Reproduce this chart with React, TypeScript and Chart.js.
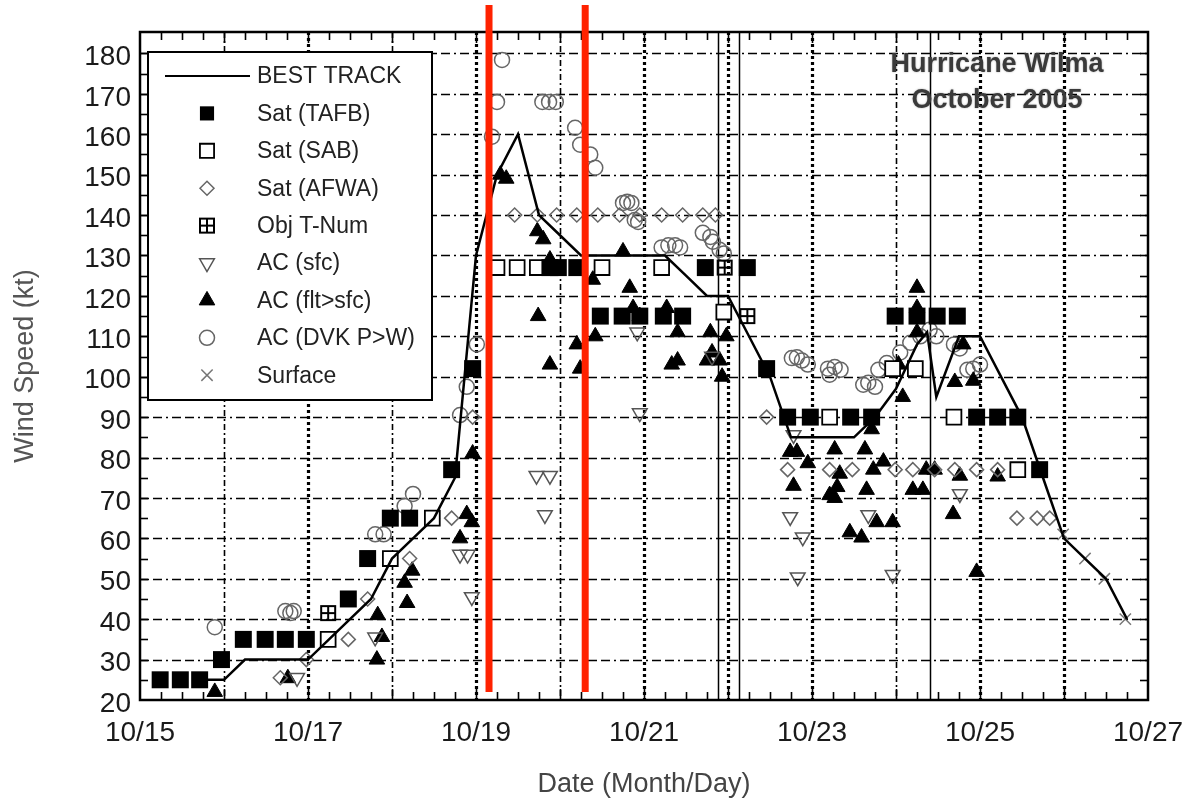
import React, { useEffect, useRef } from 'react';
import { Chart, registerables } from 'chart.js';
import { drawPoint } from 'chart.js/helpers';

Chart.register(...registerables);

const FONT = "'Liberation Sans', Arial, Helvetica, sans-serif";

// x values are days after 10/15 00Z
const xTickLabels = ['10/15', '10/17', '10/19', '10/21', '10/23', '10/25', '10/27'];

const bestTrackDays = [0.75, 1.0, 1.25, 1.5, 1.75, 2.0, 2.25, 2.5, 2.75, 3.0, 3.25, 3.5, 3.75, 4.0, 4.25, 4.5, 4.75, 5.0, 5.25, 5.5, 5.75, 6.0, 6.25, 6.5, 6.75, 7.0, 7.25, 7.5, 7.75, 8.0, 8.25, 8.5, 8.75, 9.0, 9.25, 9.37, 9.48, 9.75, 10.0, 10.5, 10.75, 11.0, 11.25, 11.5, 11.75];
const bestTrackKt = [25, 25, 30, 30, 30, 30, 35, 40, 45, 55, 60, 65, 75, 130, 150, 160, 140, 135, 130, 130, 130, 130, 130, 125, 120, 120, 110, 100, 85, 85, 85, 85, 90, 97, 108, 111, 95, 110, 110, 90, 75, 60, 55, 50, 40];

const tafbDays = [0.24, 0.48, 0.71, 0.97, 1.23, 1.49, 1.73, 1.98, 2.48, 2.71, 2.98, 3.21, 3.71, 3.96, 4.88, 4.98, 5.20, 5.48, 5.74, 5.95, 6.23, 6.46, 6.73, 7.23, 7.46, 7.71, 7.98, 8.46, 8.71, 8.99, 9.25, 9.49, 9.73, 9.96, 10.21, 10.45, 10.71];
const tafbKt = [25, 25, 25, 30, 35, 35, 35, 35, 45, 55, 65, 65, 77, 102, 127, 127, 127, 115, 115, 115, 115, 115, 127, 127, 102, 90, 90, 90, 90, 115, 115, 115, 115, 90, 90, 90, 77];

const sabDays = [2.24, 2.98, 3.48, 4.25, 4.49, 4.73, 5.50, 6.21, 6.95, 8.21, 8.96, 9.23, 9.69, 10.45];
const sabKt = [35, 55, 65, 127, 127, 127, 127, 127, 116, 90, 102, 102, 90, 77];

const afwaDays = [1.67, 1.98, 2.24, 2.48, 2.71, 2.98, 3.21, 3.48, 3.71, 3.96, 4.46, 4.73, 4.96, 5.20, 5.45, 5.71, 5.95, 6.21, 6.46, 6.70, 6.85, 7.46, 7.71, 8.21, 8.48, 8.99, 9.20, 9.46, 9.70, 9.96, 10.21, 10.44, 10.68, 10.83];
const afwaKt = [25.5, 30, 35, 35, 45, 55, 55, 65, 65, 90, 140, 140, 140, 140, 140, 140, 140, 140, 140, 140, 140, 90, 77, 77, 77, 77, 77, 77, 77, 77, 77, 65, 65, 65];

const objTDays = [2.24, 6.96, 7.23];
const objTKt = [41.5, 127, 115];

const acSfcDays = [1.87, 2.80, 3.81, 3.90, 3.95, 4.72, 4.82, 4.88, 5.92, 5.95, 6.81, 7.74, 7.78, 7.83, 7.89, 8.67, 8.96, 9.76];
const acSfcKt = [25.5, 35.5, 56, 56, 45.5, 75.5, 65.8, 75.5, 111, 91, 105, 65.3, 85.6, 50.4, 60.3, 65.8, 51, 71];

const acFltDays = [0.89, 1.76, 2.82, 2.83, 2.88, 3.15, 3.18, 3.24, 3.81, 3.89, 3.95, 3.96, 4.29, 4.36, 4.73, 4.74, 4.80, 4.88, 4.88, 5.20, 5.24, 5.39, 5.42, 5.75, 5.83, 5.87, 5.95, 6.27, 6.33, 6.40, 6.40, 6.75, 6.79, 6.81, 6.90, 6.93, 6.98, 7.74, 7.78, 7.82, 7.95, 8.21, 8.27, 8.27, 8.30, 8.33, 8.45, 8.59, 8.63, 8.65, 8.71, 8.73, 8.77, 8.85, 8.96, 9.03, 9.08, 9.20, 9.25, 9.25, 9.25, 9.32, 9.36, 9.46, 9.68, 9.70, 9.76, 9.80, 9.92, 9.96, 10.21];
const acFltKt = [22, 25.4, 30, 41, 35.6, 49, 44, 52, 60, 66, 64, 81, 150, 149, 136, 115, 134, 129, 103, 108, 102, 124, 110, 131, 122, 117, 115, 117, 103, 111, 104, 104, 111, 106, 104, 100, 110, 81.4, 73, 81.4, 78.6, 70.7, 82, 70, 72.7, 76, 61.5, 60.2, 82, 72, 87, 77, 64, 79, 64, 103, 95, 72, 122, 117, 111, 72, 77, 77, 66, 98.7, 75.5, 108, 99, 51.7, 75.3];

const dvkDays = [0.89, 1.73, 1.79, 1.83, 2.80, 2.90, 3.15, 3.25, 3.81, 3.89, 4.01, 4.19, 4.25, 4.31, 4.79, 4.87, 4.95, 5.18, 5.24, 5.36, 5.42, 5.75, 5.80, 5.85, 5.89, 5.93, 6.21, 6.29, 6.37, 6.43, 6.70, 6.79, 6.82, 6.90, 6.95, 7.76, 7.82, 7.88, 7.95, 8.19, 8.27, 8.34, 8.21, 8.61, 8.67, 8.75, 8.79, 8.89, 9.05, 9.17, 9.29, 9.40, 9.48, 9.69, 9.76, 9.85, 9.92, 10.0];
const dvkKt = [38, 42, 41.5, 42, 61, 61, 68, 71, 90.5, 97.5, 108, 159.4, 168, 178.4, 168, 168, 168, 161.6, 157.4, 155, 151.7, 143, 143.3, 143, 138.8, 138.3, 132, 132.5, 132.5, 132, 135.6, 134.6, 133.4, 131.4, 130.5, 104.6, 104.8, 104, 103, 102, 102.4, 101.7, 100.5, 98, 98.5, 97.5, 101.7, 103.4, 106, 108.4, 110, 111.6, 110, 108, 107, 101.7, 102, 103];

const surfaceDays = [10.99, 11.25, 11.48, 11.73];
const surfaceKt = [61, 55, 50, 40];

// event markers (days) and highlighted times (days)
const eventLineDays = [6.88, 7.13, 9.40];
const redLineDays = [4.155, 5.30];
const redLineKtRange = [22, 192];

const titleLines = ['Hurricane Wilma', 'October 2005'];

const toPoints = (days: number[], kt: number[]) => days.map((d, i) => ({ x: d, y: kt[i] }));

export default function App() {
  const ref = useRef<HTMLCanvasElement>(null);

  useEffect(() => {
    const canvas = ref.current!;
    const icon = document.createElement('canvas');
    icon.width = 18;
    icon.height = 18;
    const g = icon.getContext('2d')!;
    g.strokeStyle = '#000';
    g.lineWidth = 2;
    g.strokeRect(2, 2, 14, 14);
    g.beginPath();
    g.moveTo(9, 2); g.lineTo(9, 16);
    g.moveTo(2, 9); g.lineTo(16, 9);
    g.stroke();

    const clear = 'rgba(0,0,0,0)';
    const datasets: any[] = [
      { label: 'BEST TRACK', data: toPoints(bestTrackDays, bestTrackKt), showLine: true, borderColor: '#000', borderWidth: 2.5, pointRadius: 0, backgroundColor: '#000', fill: false, tension: 0 },
      { label: 'Sat (TAFB)', data: toPoints(tafbDays, tafbKt), pointStyle: 'rect', pointRadius: 12, backgroundColor: '#000', borderColor: '#000', borderWidth: 0 },
      { label: 'Sat (SAB)', data: toPoints(sabDays, sabKt), pointStyle: 'rect', pointRadius: 10.5, backgroundColor: '#fff', borderColor: '#000', borderWidth: 1.8 },
      { label: 'Sat (AFWA)', data: toPoints(afwaDays, afwaKt), pointStyle: 'rectRot', pointRadius: 7, backgroundColor: clear, borderColor: '#666', borderWidth: 1.5 },
      { label: 'Obj T-Num', data: toPoints(objTDays, objTKt), pointStyle: icon, pointRadius: 9, backgroundColor: clear, borderColor: '#000', borderWidth: 1 },
      { label: 'AC (sfc)', data: toPoints(acSfcDays, acSfcKt), pointStyle: 'triangle', rotation: 180, pointRadius: 8.5, backgroundColor: clear, borderColor: '#555', borderWidth: 1.5 },
      { label: 'AC (flt>sfc)', data: toPoints(acFltDays, acFltKt), pointStyle: 'triangle', pointRadius: 9, backgroundColor: '#000', borderColor: '#000', borderWidth: 1 },
      { label: 'AC (DVK P>W)', data: toPoints(dvkDays, dvkKt), pointStyle: 'circle', pointRadius: 7.5, backgroundColor: clear, borderColor: '#666', borderWidth: 1.5 },
      { label: 'Surface', data: toPoints(surfaceDays, surfaceKt), pointStyle: 'crossRot', pointRadius: 8, backgroundColor: clear, borderColor: '#777', borderWidth: 1.5 },
    ];

    const heavyGridDays = [2, 4, 6, 7, 8, 10, 11];

    const decor = {
      id: 'decor',
      beforeDatasetsDraw(chart: any) {
        const { ctx, chartArea: a, scales } = chart;
        const xs = scales.x, ys = scales.y;
        const seg = (x1: number, y1: number, x2: number, y2: number) => {
          ctx.beginPath(); ctx.moveTo(x1, y1); ctx.lineTo(x2, y2); ctx.stroke();
        };
        ctx.save();
        ctx.strokeStyle = '#000';
        // horizontal grid
        ctx.lineWidth = 1.6;
        ctx.setLineDash([9, 4, 9, 4, 2, 4]);
        for (let v = 30; v <= 180; v += 10) {
          const py = Math.round(ys.getPixelForValue(v)) + 0.5;
          seg(a.left, py, a.right, py);
        }
        // vertical day grid
        for (let d = 1; d < 12; d++) {
          const heavy = heavyGridDays.includes(d);
          const px = Math.round(xs.getPixelForValue(d)) + 0.5;
          ctx.lineWidth = heavy ? 3.2 : 1.6;
          ctx.setLineDash(heavy ? [3, 3] : [6, 3, 2, 3]);
          seg(px, a.top, px, a.bottom);
        }
        ctx.setLineDash([]);
        // inward minor ticks
        ctx.lineWidth = 1.6;
        for (let t = 0.25; t < 12; t += 0.25) {
          const px = Math.round(xs.getPixelForValue(t)) + 0.5;
          const len = Math.abs(t - Math.round(t)) < 1e-6 ? 11 : 8;
          seg(px, a.bottom, px, a.bottom - len);
          seg(px, a.top, px, a.top + len);
        }
        for (let v = 25; v < 185; v += 5) {
          const py = Math.round(ys.getPixelForValue(v)) + 0.5;
          seg(a.left, py, a.left + 8, py);
          seg(a.right, py, a.right - 8, py);
        }
        // event lines
        ctx.lineWidth = 1.5;
        eventLineDays.forEach((d) => {
          const px = Math.round(xs.getPixelForValue(d)) + 0.5;
          seg(px, a.top, px, a.bottom);
        });
        // frame
        ctx.lineWidth = 2.5;
        ctx.strokeRect(a.left, a.top, a.right - a.left, a.bottom - a.top);
        ctx.restore();
      },
      afterDatasetsDraw(chart: any) {
        const { ctx, chartArea: a, scales } = chart;
        const xs = scales.x, ys = scales.y;
        ctx.save();
        // title
        ctx.font = `bold 27px ${FONT}`;
        ctx.fillStyle = '#3a3a3a';
        ctx.textAlign = 'center';
        ctx.textBaseline = 'middle';
        ctx.shadowColor = 'rgba(0,0,0,0.35)';
        ctx.shadowBlur = 2;
        ctx.fillText(titleLines[0], a.right - 151, a.top + 33);
        ctx.fillText(titleLines[1], a.right - 151, a.top + 69);
        ctx.shadowBlur = 0;
        ctx.shadowColor = 'rgba(0,0,0,0)';

        // legend
        const lx = a.left + 8, ly = a.top + 20, lw = 284, lh = 348;
        ctx.fillStyle = '#fff';
        ctx.fillRect(lx, ly, lw, lh);
        ctx.strokeStyle = '#000';
        ctx.lineWidth = 2;
        ctx.strokeRect(lx, ly, lw, lh);
        ctx.font = `23px ${FONT}`;
        ctx.textAlign = 'left';
        chart.data.datasets.forEach((ds: any, i: number) => {
          const cy = ly + 24 + i * 37.4;
          if (i === 0) {
            ctx.strokeStyle = ds.borderColor;
            ctx.lineWidth = 2.2;
            ctx.beginPath(); ctx.moveTo(lx + 17, cy); ctx.lineTo(lx + 102, cy); ctx.stroke();
          } else {
            ctx.fillStyle = ds.backgroundColor;
            ctx.strokeStyle = ds.borderColor;
            ctx.lineWidth = ds.borderWidth;
            drawPoint(ctx, { pointStyle: ds.pointStyle, rotation: ds.rotation || 0, radius: Math.min(ds.pointRadius, 10), borderWidth: ds.borderWidth } as any, lx + 59, cy);
          }
          ctx.fillStyle = '#222';
          ctx.fillText(ds.label, lx + 109, cy + 1);
        });

        // red highlight lines
        ctx.strokeStyle = '#ff2200';
        ctx.lineWidth = 7;
        redLineDays.forEach((d) => {
          const px = xs.getPixelForValue(d);
          ctx.beginPath();
          ctx.moveTo(px, ys.getPixelForValue(redLineKtRange[1]));
          ctx.lineTo(px, ys.getPixelForValue(redLineKtRange[0]));
          ctx.stroke();
        });
        ctx.restore();
      },
    };

    const chart = new Chart(canvas, {
      type: 'scatter',
      data: { datasets },
      options: {
        animation: false,
        responsive: false,
        events: [],
        layout: { padding: { left: 0, right: 46, top: 32, bottom: 0 } },
        plugins: { legend: { display: false }, tooltip: { enabled: false } },
        scales: {
          x: {
            type: 'linear', position: 'bottom', min: 0, max: 12,
            grid: { display: false, drawTicks: false },
            border: { display: false },
            ticks: {
              stepSize: 2, autoSkip: false, maxRotation: 0, padding: 16, color: '#1a1a1a',
              font: { family: FONT, size: 28 },
              callback: (v: any) => xTickLabels[Math.round(Number(v) / 2)] ?? '',
            },
            title: { display: true, text: 'Date (Month/Day)', color: '#444', font: { family: FONT, size: 27 }, padding: { top: 0, bottom: 0 } },
            afterFit: (s: any) => { s.height = 101; s.paddingLeft = 0; s.paddingRight = 0; },
          },
          y: {
            type: 'linear', min: 20, max: 185.3,
            grid: { display: false, drawTicks: false },
            border: { display: false },
            ticks: {
              stepSize: 10, includeBounds: false, padding: 9, labelOffset: 4, color: '#1a1a1a',
              font: { family: FONT, size: 28 },
            },
            title: { display: true, text: 'Wind Speed (kt)', color: '#555', font: { family: FONT, size: 27 }, padding: { top: 9, bottom: 0 } },
            afterFit: (s: any) => { s.width = 140; s.paddingTop = 0; s.paddingBottom = 0; },
          },
        },
      } as any,
      plugins: [decor],
    });
    return () => chart.destroy();
  }, []);

  return (
    <div style={{ position: 'fixed', left: 0, top: 0, width: 1194, height: 801, background: '#fff' }}>
      <canvas ref={ref} width={1194} height={801} style={{ width: 1194, height: 801, display: 'block' }} />
    </div>
  );
}
